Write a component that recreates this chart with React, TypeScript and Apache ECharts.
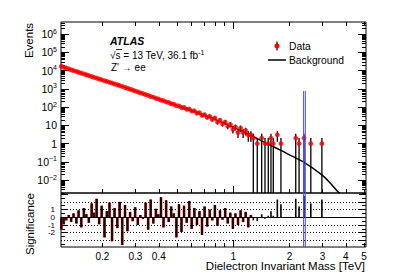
import React, { useEffect, useRef } from 'react';
import * as echarts from 'echarts';

// ---- data ----
const denseMass = [
  0.1205, 0.124, 0.128, 0.132, 0.136, 0.140, 0.145, 0.149, 0.154, 0.159,
  0.164, 0.169, 0.175, 0.180, 0.186, 0.192, 0.198, 0.205, 0.211, 0.218,
  0.225, 0.232, 0.240, 0.247, 0.255, 0.264, 0.272, 0.281, 0.290, 0.299,
  0.309, 0.319, 0.329, 0.340, 0.351, 0.362, 0.374, 0.386, 0.398, 0.411,
  0.424, 0.438, 0.452, 0.466, 0.481, 0.497, 0.513, 0.529, 0.546, 0.564,
  0.582, 0.600, 0.620, 0.640, 0.660, 0.681, 0.703, 0.726, 0.749, 0.773,
  0.798, 0.824, 0.850, 0.877, 0.906, 0.935, 0.965, 0.996, 1.028, 1.061,
  1.095, 1.130, 1.166, 1.204, 1.243,
];
const denseCount = [
  17100, 15100, 13700, 12150, 11050, 9950, 8960, 8080, 7240, 6500,
  5880, 5260, 4730, 4260, 3830, 3440, 3100, 2750, 2530, 2260,
  2060, 1830, 1670, 1490, 1350, 1180, 1070, 940, 855, 750,
  680, 597, 545, 478, 436, 380, 348, 298, 279, 238,
  224, 190, 178, 151, 144, 118, 114, 93, 94, 75,
  77, 60, 62, 46, 49, 35, 38, 27, 31, 21,
  25, 15, 19, 12, 15, 9, 11, 6, 8, 4,
  7, 4, 5, 3, 3,
];
const denseSig = [
  -1.6, -0.9, -0.4, 0.3, -0.6, 0.5, -0.8, 0.9, -1.3, 1.2,
  0.4, -0.7, 1.8, 0.6, 2.4, -0.9, 1.5, -2.6, 0.8, 1.9,
  -3.1, 1.2, -1.4, 2.0, -3.6, 1.6, -1.8, 0.7, -0.5, 1.3,
  -1.0, 0.3, -0.2, 1.9, -1.6, 2.3, -0.8, 1.1, 0.4, 2.6,
  -1.3, 2.2, -0.6, 1.4, 0.5, -2.6, 1.7, -1.9, 1.5, -0.7,
  2.1, -1.5, 1.2, -1.0, 0.8, -2.3, 1.4, -1.2, 1.0, -0.4,
  1.6, -1.1, 0.9, -0.3, 1.2, -0.8, 0.6, -1.5, 0.5, -1.0,
  0.9, -0.6, 0.7, -1.3, 0.3,
];
const sparseMass = [1.281, 1.345, 1.42, 1.479, 1.54, 1.592, 1.638, 1.722, 1.80, 2.16, 2.25, 2.39, 2.60, 2.98];
const sparseCount = [2, 1, 2, 1, 1, 2, 1, 3, 1, 2, 1, 2, 1, 1];
const sparseSig = [-0.4, -0.5, 0.4, -0.2, 0.2, 0.8, 0.2, 2.3, 1.7, 2.4, 1.4, 2.8, 1.8, 2.3];

const bkgMass = [0.12, 0.15, 0.2, 0.25, 0.3, 0.4, 0.5, 0.6, 0.75, 0.9, 1.0, 1.23, 1.4, 1.574, 1.8, 2.01, 2.36, 2.98, 3.3, 3.63, 3.72];
const bkgValue = [17000, 7900, 3000, 1450, 750, 270, 120, 64, 27, 12.5, 7.9, 2.95, 1.5, 0.83, 0.42, 0.234, 0.101, 0.019, 0.0069, 0.0023, 0.0019];

const blueLineMass = [2.38, 2.43];
const blueLineTop = 760;

const xTickValues = [0.2, 0.3, 0.4, 1, 2, 3, 4, 5];
const xTickLabels = ['0.2', '0.3', '0.4', '1', '2', '3', '4', '5'];
const xMinorTickValues = [0.2, 0.3, 0.4, 0.5, 0.6, 0.7, 0.8, 0.9, 2, 3, 4, 5];
const xMajorTickValues = [1];
const yDecades = [-2, -1, 0, 1, 2, 3, 4, 5, 6];
const sigTickValues = [-3, -2, -1, 0, 1, 2];
const sigGridLines = [-3, -2, -1, 1, 2];

const L = Math.log10;
const X_MIN = L(0.12), X_MAX = L(5.13);
const Y_MIN = -2.71, Y_MAX = 6.66;
const S_MIN = -3.85, S_MAX = 3.15;
const FONT = 'Liberation Sans';

export default function App() {
  const ref = useRef<HTMLDivElement>(null);
  useEffect(() => {
    if (!ref.current) return;
    const chart = echarts.init(ref.current, undefined, { renderer: 'svg' });

    const yMinor: number[] = [];
    for (let d = -3; d <= 6; d++) for (let k = 2; k <= 9; k++) {
      const v = d + L(k);
      if (v > Y_MIN && v < Y_MAX) yMinor.push(v);
    }
    const sMinor: number[] = [];
    for (let v = -3.5; v <= 3; v += 0.5) if (Math.abs(v - Math.round(v)) > 0.1) sMinor.push(v);

    const tick = (len: number, vals: number[]) => ({
      show: true, inside: true, length: len, customValues: vals, lineStyle: { color: '#000', width: 1 },
    });
    const xAx = (gridIndex: number, position: string, vals: number[], len: number, label?: any) => ({
      type: 'value', gridIndex, position, min: X_MIN, max: X_MAX,
      axisLine: { show: false, onZero: false }, splitLine: { show: false },
      axisTick: tick(len, vals), axisLabel: label || { show: false },
    });
    const yAx = (gridIndex: number, position: string, min: number, max: number, vals: number[], len: number, label?: any) => ({
      type: 'value', gridIndex, position, min, max,
      axisLine: { show: false, onZero: false }, splitLine: { show: false },
      axisTick: tick(len, vals), axisLabel: label || { show: false },
    });

    const allMass = denseMass.concat(sparseMass);
    const allCount = denseCount.concat(sparseCount);

    const points = allMass.map((m, i) => [L(m), L(allCount[i])]);
    const errs = allMass.map((m, i) => {
      const n = allCount[i];
      const lo = n <= 2 ? Y_MIN : L(n - Math.sqrt(n));
      const hi = L(n + Math.sqrt(n));
      return [L(m), lo, hi];
    });
    const bkg = bkgMass.map((m, i) => [L(m), L(bkgValue[i])]);
    const sigDense = denseMass.map((m, i) => [L(m), denseSig[i]]);
    const sigSparse = sparseMass.map((m, i) => [L(m), sparseSig[i]]);

    const blueTop = blueLineMass.map((m) => ({
      type: 'line', xAxisIndex: 0, yAxisIndex: 0, symbol: 'none', z: 6, silent: true,
      lineStyle: { color: '#4a4aff', width: 1 },
      data: [[L(m), L(blueLineTop)], [L(m), Y_MIN]],
    }));
    const blueBot = blueLineMass.map((m) => ({
      type: 'line', xAxisIndex: 4, yAxisIndex: 4, symbol: 'none', z: 6, silent: true,
      lineStyle: { color: '#4a4aff', width: 1 },
      data: [[L(m), S_MIN], [L(m), S_MAX]],
    }));

    const option: any = {
      animation: false,
      textStyle: { fontFamily: FONT },
      grid: [
        { left: 61, top: 22, width: 305, height: 171, show: true, borderColor: '#000', borderWidth: 1, backgroundColor: 'transparent' },
        { left: 61, top: 193, width: 305, height: 54, show: true, borderColor: '#000', borderWidth: 1, backgroundColor: 'transparent' },
      ],
      xAxis: [
        xAx(0, 'bottom', xMajorTickValues.map(L), 7),
        xAx(0, 'bottom', xMinorTickValues.map(L), 4),
        xAx(0, 'top', xMajorTickValues.map(L), 7),
        xAx(0, 'top', xMinorTickValues.map(L), 4),
        xAx(1, 'bottom', xMajorTickValues.map(L), 7, {
          show: true, customValues: xTickValues.map(L), margin: 4, fontSize: 10, color: '#000', fontFamily: FONT,
          formatter: (v: number) => {
            const i = xTickValues.findIndex((t) => Math.abs(L(t) - v) < 1e-6);
            return i >= 0 ? xTickLabels[i] : '';
          },
        }),
        xAx(1, 'bottom', xMinorTickValues.map(L), 4),
        xAx(1, 'bottom', [], 4),
      ],
      yAxis: [
        yAx(0, 'left', Y_MIN, Y_MAX, yDecades, 8, {
          show: true, customValues: yDecades, margin: 4, fontSize: 10.5, color: '#000', fontFamily: FONT,
          formatter: (v: number) => {
            const n = Math.round(v);
            if (n === 0) return '1';
            if (n === 1) return '10';
            return '10{s|' + (n < 0 ? '\u2212' + -n : String(n)) + '}';
          },
          rich: { s: { fontSize: 7, fontFamily: FONT, color: '#000', padding: [0, 0, 6, 0] } },
        }),
        yAx(0, 'left', Y_MIN, Y_MAX, yMinor, 4),
        yAx(0, 'right', Y_MIN, Y_MAX, yDecades, 8),
        yAx(0, 'right', Y_MIN, Y_MAX, yMinor, 4),
        yAx(1, 'left', S_MIN, S_MAX, [-3, -2, -1, 0, 1, 2, 3], 7, {
          show: true, customValues: sigTickValues, margin: 6, fontSize: 8, color: '#000', fontFamily: FONT,
          hideOverlap: false,
          formatter: (v: number) => String(Math.round(v)),
        }),
        yAx(1, 'left', S_MIN, S_MAX, sMinor, 4),
        yAx(1, 'right', S_MIN, S_MAX, [-3, -2, -1, 0, 1, 2, 3], 7),
        yAx(1, 'right', S_MIN, S_MAX, sMinor, 4),
        yAx(1, 'right', S_MIN, S_MAX, [], 4),
      ],
      series: [
        {
          type: 'line', name: 'Background', xAxisIndex: 0, yAxisIndex: 0, data: bkg, smooth: 0.3,
          symbol: 'none', z: 2, lineStyle: { color: '#000', width: 1.5 }, silent: true,
        },
        {
          type: 'custom', name: 'DataErr', xAxisIndex: 0, yAxisIndex: 0, data: errs, z: 3, silent: true,
          encode: { x: 0, y: [1, 2] },
          renderItem: (_p: any, api: any) => {
            const x = api.value(0), lo = api.value(1), hi = api.value(2);
            const a = api.coord([x, lo]);
            const b = api.coord([x, hi]);
            return { type: 'line', shape: { x1: a[0], y1: a[1], x2: b[0], y2: b[1] }, style: { stroke: '#000', lineWidth: 1.3 } };
          },
        },
        {
          type: 'scatter', name: 'Data', xAxisIndex: 0, yAxisIndex: 0, data: points, symbol: 'circle',
          symbolSize: 5, z: 4, itemStyle: { color: '#ff0000' }, silent: true,
        },
        {
          type: 'bar', name: 'SigFill', xAxisIndex: 4, yAxisIndex: 4, data: sigDense, barWidth: 2.7, z: 2,
          itemStyle: { color: '#ff0000' }, silent: true,
          markLine: {
            silent: true, symbol: 'none', label: { show: false },
            data: [
              { yAxis: 0, lineStyle: { type: 'solid', color: '#000', width: 1 } },
              ...sigGridLines.map((g) => ({ yAxis: g, lineStyle: { type: [1, 2], color: '#000', width: 1 } })),
            ],
          },
        },
        {
          type: 'bar', name: 'SigEdge', xAxisIndex: 6, yAxisIndex: 8, data: sigDense, barWidth: 1.9, z: 3,
          itemStyle: { color: '#000' }, silent: true,
        },
        {
          type: 'bar', name: 'SigSparse', xAxisIndex: 5, yAxisIndex: 5, data: sigSparse, barWidth: 1.6, z: 3,
          itemStyle: { color: '#000' }, silent: true,
        },
        ...blueTop,
        ...blueBot,
      ],
      graphic: [
        { type: 'text', x: 110, y: 41, style: { text: 'ATLAS', fontSize: 10.5, fontWeight: 'bold', fontStyle: 'italic', fontFamily: FONT, fill: '#000', verticalAlign: 'middle' } },
        {
          type: 'text', x: 110, y: 55,
          style: {
            text: '\u221As = 13 TeV, 36.1 fb{s|-1}', fontSize: 10, fontFamily: FONT, fill: '#000', verticalAlign: 'middle',
            rich: { s: { fontSize: 7, fontFamily: FONT, fill: '#000', padding: [0, 0, 6, 0] } },
          },
        },
        { type: 'line', shape: { x1: 116, y1: 49.5, x2: 122, y2: 49.5 }, style: { stroke: '#000', lineWidth: 0.8 } },
        { type: 'text', x: 111, y: 67, style: { text: "Z' \u2192 ee", fontSize: 10, fontFamily: FONT, fill: '#000', verticalAlign: 'middle' } },
        // legend
        { type: 'line', shape: { x1: 277, y1: 41.5, x2: 277, y2: 50.5 }, style: { stroke: '#000', lineWidth: 1.2 } },
        { type: 'circle', shape: { cx: 277, cy: 46, r: 2.6 }, style: { fill: '#ff0000' } },
        { type: 'text', x: 289, y: 46, style: { text: 'Data', fontSize: 10.3, fontFamily: FONT, fill: '#000', verticalAlign: 'middle' } },
        { type: 'line', shape: { x1: 268, y1: 60, x2: 286, y2: 60 }, style: { stroke: '#000', lineWidth: 1.5 } },
        { type: 'text', x: 289, y: 60, style: { text: 'Background', fontSize: 10.3, fontFamily: FONT, fill: '#000', verticalAlign: 'middle' } },
        // axis titles
        { type: 'text', x: 29, y: 40.5, rotation: Math.PI / 2, style: { text: 'Events', fontSize: 11.5, fontFamily: FONT, fill: '#000', align: 'center', verticalAlign: 'middle' } },
        { type: 'text', x: 30, y: 224, rotation: Math.PI / 2, style: { text: 'Significance', fontSize: 11.5, fontFamily: FONT, fill: '#000', align: 'center', verticalAlign: 'middle' } },
        { type: 'text', x: 365, y: 266, style: { text: 'Dielectron Invariant Mass [TeV]', fontSize: 11.5, fontFamily: FONT, fill: '#000', align: 'right', verticalAlign: 'middle' } },
      ],
    };
    chart.setOption(option);
    return () => chart.dispose();
  }, []);
  return <div ref={ref} style={{ position: 'absolute', left: 0, top: 0, width: 407, height: 276, background: '#fff' }} />;
}
